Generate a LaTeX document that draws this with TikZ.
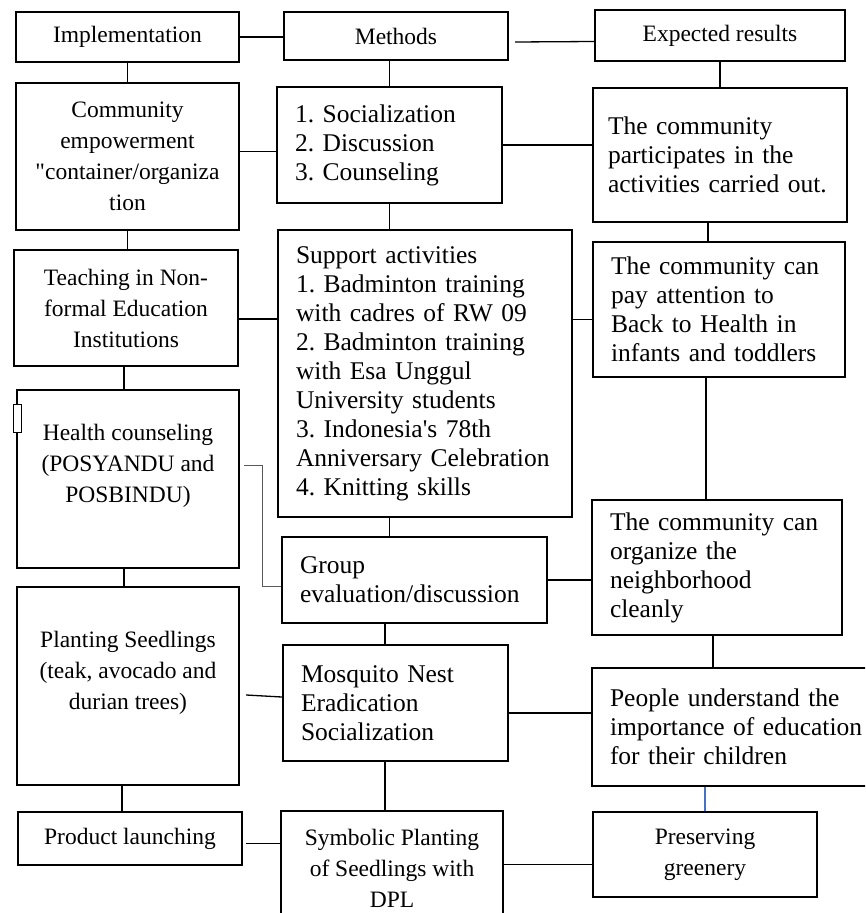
\documentclass[tikz,border=0pt]{standalone}
\usepackage{fontspec}
\setmainfont{Liberation Serif}
\definecolor{linkblue}{RGB}{68,114,196}
\begin{document}
\begin{tikzpicture}[x=1pt,y=-1pt,
	box/.style={draw,line width=2.4pt,rectangle,inner sep=0pt},
	cbox/.style={box,align=center,font=\fontsize{23.5}{31}\selectfont},
	lbox/.style={box,align=left,inner xsep=18pt,font=\fontsize{25.5}{29}\selectfont\frenchspacing},
	link/.style={line width=1.3pt},
	thinlink/.style={line width=0.9pt,black!65}]
			\useasboundingbox (0,0) rectangle (865,913);
			\clip (0,0) rectangle (865,913);
			\fill[white] (0,0) rectangle (865,913);
			% top row
			\node[cbox,minimum width=223pt,minimum height=50pt] (impl) at (127.5,37) {Implementation};
			\node[cbox,minimum width=224pt,minimum height=48pt] (meth) at (396,36) {Methods};
			\node[cbox,minimum width=250pt,minimum height=51pt] (expres) at (720,35.5) {Expected results};
			% left column
			\node[cbox,minimum width=223pt,minimum height=147pt] (commemp) at (127.5,156.5) {Community\\empowerment\\\textquotedbl container/organiza\\tion};
			\node[cbox,minimum width=224pt,minimum height=116pt] (teach) at (126,308) {Teaching in Non-\\formal Education\\Institutions};
			\node[cbox,minimum width=222pt,minimum height=178pt] (health) at (128,479) {Health counseling\\(POSYANDU and\\POSBINDU)\\\mbox{}};
			\node[cbox,minimum width=222pt,minimum height=198pt] (planting) at (128,686) {Planting Seedlings\\(teak, avocado and\\durian trees)\\\mbox{}};
			\node[cbox,minimum width=224pt,minimum height=53pt] (product) at (130,838.5) {Product launching};
			% middle column
			\node[lbox,text width=189pt,minimum height=116pt] (methlist) at (389.5,145) {1. Socialization\\2. Discussion\\3. Counseling};
			\node[lbox,text width=258pt,minimum height=287pt] (support) at (425,373.5) {Support activities\\1. Badminton training\\with cadres of RW 09\\2. Badminton training\\with Esa Unggul\\University students\\3. Indonesia\textquotesingle s 78th\\Anniversary Celebration\\4. Knitting skills};
			\node[lbox,text width=229pt,minimum height=86pt] (group) at (414.5,580) {Group\\evaluation/discussion};
			\node[lbox,text width=189pt,minimum height=116pt] (mosquito) at (395.5,703) {Mosquito Nest\\Eradication\\Socialization};
			\node[cbox,minimum width=222pt,minimum height=114pt] (symbolic) at (392,868) {Symbolic Planting\\of Seedlings with\\DPL};
			% right column
			\node[lbox,inner xsep=15pt,text width=224pt,minimum height=134pt] (particip) at (720,155) {The community\\participates in the\\activities carried out.};
			\node[lbox,text width=216pt,minimum height=135pt] (payatt) at (719,309.5) {The community can\\pay attention to\\Back to Health in\\infants and toddlers};
			\node[lbox,text width=214pt,minimum height=135pt] (organize) at (717,567.5) {The community can\\organize the\\neighborhood\\cleanly};
			\node[lbox,text width=264pt,minimum height=118pt] (people) at (742,727) {People understand the\\importance of education\\for their children};
			\node[cbox,minimum width=224pt,minimum height=85pt] (preserving) at (705,854.5) {Preserving\\greenery};
			\coordinate (spine) at (385,0);
			% vertical links
			\draw[link] (impl.south) -- (commemp.north);
			\draw[link] (methlist.north) -- (methlist.north |- meth.south);
			\draw[link] (expres.south) -- (particip.north);
			\draw[link] (commemp.south) -- (commemp.south |- teach.north);
			\draw[link] (methlist.south) -- (methlist.south |- support.north);
			\draw[link] ([xshift=-11pt]payatt.north) -- ([xshift=-11pt]payatt.north |- particip.south);
			\draw[link] (teach.south -| 124,0) -- (health.north -| 124,0);
			\draw[link] (support.south -| methlist) -- (group.north -| methlist);
			\draw[link] ([xshift=-11pt]organize.north) -- ([xshift=-11pt]organize.north |- payatt.south);
			\draw[link] (health.south -| 124,0) -- (planting.north -| 124,0);
			\draw[link] (group.south -| spine) -- (mosquito.north -| spine);
			\draw[link] ([xshift=-4pt]organize.south) -- ([xshift=-4pt]organize.south |- people.north);
			\draw[link] (planting.south -| 122,0) -- (product.north -| 122,0);
			\draw[link] (mosquito.south -| spine) -- (symbolic.north -| spine);
			\draw[link,linkblue] (preserving.north) -- (preserving.north |- people.south);
			% horizontal links
			\draw[link] (impl.east) -- (impl.east -| meth.west);
			\draw[link] ([shift={(6pt,-6pt)}]meth.east) -- ([yshift=-6pt]expres.west);
			\draw[link] ([yshift=5pt]commemp.east) -- ([yshift=5pt]commemp.east -| methlist.west);
			\draw[link] (methlist.east) -- (methlist.east -| particip.west);
			\draw[link] ([yshift=-11pt]teach.east) -- ([yshift=-11pt]teach.east -| support.west);
			\draw[link] ([yshift=-10pt]payatt.west) -- ([yshift=-10pt]payatt.west -| support.east);
			\draw[thinlink] ([shift={(4pt,14pt)}]health.east) -- ++(18pt,0) |- ([yshift=-6pt]group.west);
			\draw[link] (group.east) -- (group.east -| organize.west);
			\draw[link] ([shift={(6pt,-9pt)}]planting.east) -- ([yshift=6pt]mosquito.west);
			\draw[link] ([yshift=-10pt]mosquito.east) -- ([yshift=-10pt]mosquito.east -| people.west);
			\draw[link] ([shift={(3pt,-5pt)}]product.east) -- ([yshift=-5pt]product.east -| symbolic.west);
			\draw[link] ([yshift=-10pt]preserving.west) -- ([yshift=-10pt]preserving.west -| symbolic.east);
			% stray marker on the health box
			\draw[line width=0.8pt,fill=white] (13,404) rectangle (21,432);
		\end{tikzpicture}
\end{document}
